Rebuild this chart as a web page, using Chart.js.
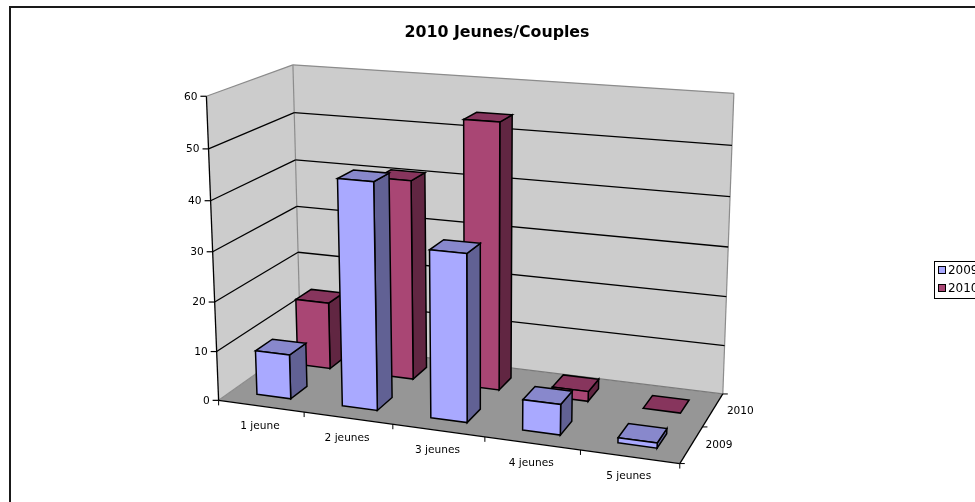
<!DOCTYPE html>
<html>
<head>
<meta charset="utf-8">
<script src="https://cdn.jsdelivr.net/npm/chart.js@4"></script>
<style>
  html, body { margin: 0; padding: 0; background: #fff; overflow: hidden; width: 975px; height: 502px; }
  canvas { display: block; }
</style>
</head>
<body>
<canvas id="chart" width="994" height="560"></canvas>
<script>
const categories = ["1 jeune", "2 jeunes", "3 jeunes", "4 jeunes", "5 jeunes"];
const seriesNames = ["2009", "2010"];
const values2009 = [9, 45, 33, 6, 1];
const values2010 = [14, 41, 54, 2, 0];

const frontColors = ["#A9A9FF", "#A94674"];
const topColors = ["#8888CC", "#87355D"];
const sideColors = ["#616194", "#612642"];
const fontName = '"DejaVu Sans", Verdana, sans-serif';
const barShare = 0.4;

// screen positions of the box corners, [u, v, w, px, py]
// u along categories, v up the value axis, w towards the back
const frame = [
  [0, 0, 0, 218.3, 399.3], [0, 0.5, 0, 212.7, 251.7], [0, 1, 0, 206.5, 96.7],
  [0, 0, 1, 301, 344], [0, 0.5, 1, 296.7, 205], [0, 1, 1, 292.7, 65],
  [1, 0, 1, 722.7, 393], [1, 0.5, 1, 727.7, 247.3], [1, 1, 1, 734.3, 93.3],
  [1, 0, 0, 680, 464.3],
];

// least squares fit of the 3x4 perspective matrix
function fitCamera(pts) {
  const rows = [];
  pts.forEach(([u, v, w, x, y]) => {
    rows.push([u, v, w, 1, 0, 0, 0, 0, -x * u, -x * v, -x * w, x]);
    rows.push([0, 0, 0, 0, u, v, w, 1, -y * u, -y * v, -y * w, y]);
  });
  const n = 11;
  const a = [];
  for (let i = 0; i < n; i++) {
    a.push([]);
    for (let j = 0; j <= n; j++) {
      a[i].push(rows.reduce((s, r) => s + r[i] * r[j], 0));
    }
  }
  for (let i = 0; i < n; i++) {
    let p = i;
    for (let k = i + 1; k < n; k++) if (Math.abs(a[k][i]) > Math.abs(a[p][i])) p = k;
    [a[i], a[p]] = [a[p], a[i]];
    for (let k = 0; k < n; k++) {
      if (k === i) continue;
      const f = a[k][i] / a[i][i];
      for (let j = i; j <= n; j++) a[k][j] -= f * a[i][j];
    }
  }
  return a.map((r, i) => r[n] / r[i]);
}
const cam = fitCamera(frame);
function project(u, v, w) {
  const d = cam[8] * u + cam[9] * v + cam[10] * w + 1;
  return [
    (cam[0] * u + cam[1] * v + cam[2] * w + cam[3]) / d,
    (cam[4] * u + cam[5] * v + cam[6] * w + cam[7]) / d,
  ];
}

function poly(ctx, pts, fill, stroke, lw) {
  ctx.beginPath();
  pts.forEach((p, i) => (i ? ctx.lineTo(p[0], p[1]) : ctx.moveTo(p[0], p[1])));
  ctx.closePath();
  if (fill) { ctx.fillStyle = fill; ctx.fill(); }
  if (stroke) { ctx.strokeStyle = stroke; ctx.lineWidth = lw || 1; ctx.stroke(); }
}
function line(ctx, a, b, color, lw) {
  ctx.beginPath();
  ctx.moveTo(a[0], a[1]);
  ctx.lineTo(b[0], b[1]);
  ctx.strokeStyle = color;
  ctx.lineWidth = lw || 1;
  ctx.stroke();
}

function drawBox(chart) {
  const ctx = chart.ctx;
  const { x, y, z } = chart.scales;
  const vOf = (val) => (y.bottom - y.getPixelForValue(val)) / y.height;
  const uOf = (i) => (x.getPixelForValue(i) - x.left) / x.width;
  const wOf = (i) => (z.getPixelForValue(i) - z.left) / z.width;

  poly(ctx, [project(0, 0, 0), project(1, 0, 0), project(1, 0, 1), project(0, 0, 1)], "#969696");
  poly(ctx, [project(0, 0, 0), project(0, 1, 0), project(0, 1, 1), project(0, 0, 1)], "#CCCCCC");
  poly(ctx, [project(0, 0, 1), project(0, 1, 1), project(1, 1, 1), project(1, 0, 1)], "#CCCCCC");

  const wall = "#8C8C8C";
  line(ctx, project(0, 1, 0), project(0, 1, 1), wall, 1.2);
  line(ctx, project(0, 1, 1), project(1, 1, 1), wall, 1.2);
  line(ctx, project(0, 1, 1), project(0, 0, 1), wall, 1.2);
  line(ctx, project(1, 1, 1), project(1, 0, 1), wall, 1.2);
  line(ctx, project(0, 0, 0), project(0, 0, 1), wall, 1.2);
  line(ctx, project(0, 0, 1), project(1, 0, 1), "#7A7A7A", 1.2);

  ctx.font = "10.6px " + fontName;
  ctx.fillStyle = "#000";
  ctx.textBaseline = "middle";

  y.ticks.forEach((t) => {
    const v = vOf(t.value);
    if (t.value > 0 && t.value < y.max) {
      line(ctx, project(0, v, 0), project(0, v, 1), "#000", 1.3);
      line(ctx, project(0, v, 1), project(1, v, 1), "#000", 1.3);
    }
    const p = project(0, v, 0);
    line(ctx, [p[0] - 6, p[1]], p, "#000", 1.2);
    ctx.fillStyle = "#000";
    ctx.textAlign = "right";
    ctx.fillText(t.label, p[0] - 9, p[1] + 0.5);
  });

  line(ctx, project(0, 0, 0), project(0, 1, 0), "#000", 1.3);
  line(ctx, project(0, 0, 0), project(1, 0, 0), "#000", 1.3);
  line(ctx, project(1, 0, 0), project(1, 0, 1), "#000", 1.3);

  for (let k = 0; k <= categories.length; k++) {
    const p = project(k / categories.length, 0, 0);
    line(ctx, p, [p[0], p[1] + 5], "#000", 1);
  }
  categories.forEach((c, i) => {
    const p = project(uOf(i), 0, 0);
    ctx.fillStyle = "#000";
    ctx.textAlign = "center";
    ctx.fillText(c, p[0] - 1, p[1] + 20);
  });
  for (let k = 0; k <= seriesNames.length; k++) {
    const p = project(1, 0, k / seriesNames.length);
    line(ctx, p, [p[0] + 5, p[1]], "#000", 1);
  }
  seriesNames.forEach((s, i) => {
    const p = project(1, 0, wOf(i));
    ctx.fillStyle = "#000";
    ctx.textAlign = "left";
    ctx.fillText(s, p[0] + 14, p[1] + 1);
  });
}

function drawBars(chart) {
  const ctx = chart.ctx;
  const { x, y, z } = chart.scales;
  const slot = barShare * z.width / seriesNames.length;
  for (let d = seriesNames.length - 1; d >= 0; d--) {
    const centre = z.getPixelForValue(d);
    const w0 = (centre - slot / 2 - z.left) / z.width;
    const w1 = (centre + slot / 2 - z.left) / z.width;
    chart.getDatasetMeta(d).data.forEach((bar) => {
      const u0 = (bar.x - bar.width / 2 - x.left) / x.width;
      const u1 = (bar.x + bar.width / 2 - x.left) / x.width;
      const v0 = (y.bottom - bar.base) / y.height;
      const v1 = (y.bottom - bar.y) / y.height;
      const lw = 1.5;
      if (v1 > v0) {
        poly(ctx, [project(u1, v0, w0), project(u1, v1, w0), project(u1, v1, w1), project(u1, v0, w1)], sideColors[d], "#000", lw);
      }
      poly(ctx, [project(u0, v1, w0), project(u1, v1, w0), project(u1, v1, w1), project(u0, v1, w1)], topColors[d], "#000", lw);
      if (v1 > v0) {
        poly(ctx, [project(u0, v0, w0), project(u1, v0, w0), project(u1, v1, w0), project(u0, v1, w0)], frontColors[d], "#000", lw);
      }
    });
  }
}

const box3d = {
  id: "box3d",
  beforeDraw(chart) {
    const ctx = chart.ctx;
    ctx.save();
    ctx.strokeStyle = "#1a1a1a";
    ctx.lineWidth = 2;
    ctx.strokeRect(10, 7, chart.width + 20, chart.height + 20);
    ctx.restore();
  },
  beforeDatasetsDraw(chart) {
    drawBox(chart);
    drawBars(chart);
    return false;
  },
  afterDraw(chart) {
    // legend frame and square swatches, the text itself comes from the legend
    const ctx = chart.ctx;
    const boxes = chart.legend.legendHitBoxes;
    const last = boxes[boxes.length - 1];
    const top = Math.round(boxes[0].top) - 4;
    ctx.save();
    ctx.lineWidth = 1;
    ctx.strokeStyle = "#000";
    ctx.strokeRect(Math.round(boxes[0].left) - 3.5, top + 0.5, 80, Math.round(last.top + last.height) + 3 - top);
    boxes.forEach((b, i) => {
      ctx.fillStyle = frontColors[i];
      ctx.fillRect(Math.round(b.left) + 0.5, Math.round(b.top) + 1.5, 7, 7);
      ctx.strokeRect(Math.round(b.left) + 0.5, Math.round(b.top) + 1.5, 7, 7);
    });
    ctx.restore();
  },
};

new Chart(document.getElementById("chart"), {
  type: "bar",
  data: {
    labels: categories,
    datasets: [
      { label: seriesNames[0], data: values2009, backgroundColor: frontColors[0], borderColor: "#000", borderWidth: 1 },
      { label: seriesNames[1], data: values2010, backgroundColor: frontColors[1], borderColor: "#000", borderWidth: 1 },
    ],
  },
  plugins: [box3d],
  options: {
    responsive: false,
    animation: false,
    grouped: false,
    barPercentage: barShare,
    categoryPercentage: 1,
    layout: { padding: { left: 5.5, right: 5.5 } },
    scales: {
      x: { display: false },
      y: { display: false, min: 0, max: 60, ticks: { stepSize: 10 } },
      z: { type: "category", axis: "x", position: "bottom", labels: seriesNames, offset: true, display: false },
    },
    plugins: {
      title: {
        display: true,
        text: "2010 Jeunes/Couples",
        color: "#000",
        font: { family: fontName, size: 15.8, weight: "bold" },
        padding: { top: 23, bottom: 6 },
      },
      legend: {
        position: "right",
        labels: {
          boxWidth: 4,
          boxHeight: 4,
          padding: 6,
          color: "#000",
          font: { family: fontName, size: 12 },
          generateLabels: (chart) => seriesNames.map((s, i) => ({
            text: s,
            datasetIndex: i,
            fillStyle: "rgba(0,0,0,0)",
            strokeStyle: "rgba(0,0,0,0)",
            lineWidth: 0,
          })),
        },
      },
      tooltip: { enabled: false },
    },
  },
});
</script>
</body>
</html>
